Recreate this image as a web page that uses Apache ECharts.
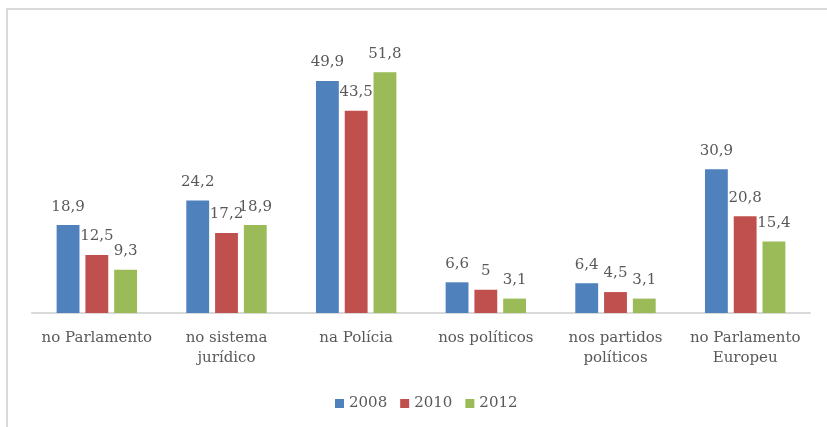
<!DOCTYPE html>
<html>
<head>
<meta charset="utf-8">
<script src="https://cdn.jsdelivr.net/npm/echarts@6/dist/echarts.min.js"></script>
<style>
  html, body { margin: 0; padding: 0; background: #fff; overflow: hidden; width: 827px; height: 427px; }
  #frame { position: absolute; left: 6px; top: 8px; width: 900px; height: 500px;
           border-left: 2px solid #d9d9d9; border-top: 2px solid #d9d9d9; }
  #chart { position: absolute; left: 0; top: 0; width: 827px; height: 427px; }
</style>
</head>
<body>
<div id="frame"></div>
<div id="chart"></div>
<script>
// Confidence in institutions, by survey year
const categories = ['no Parlamento', 'no sistema\njurídico', 'na Polícia', 'nos políticos', 'nos partidos\npolíticos', 'no Parlamento\nEuropeu'];
const years = ['2008', '2010', '2012'];
const values2008 = [18.9, 24.2, 49.9, 6.6, 6.4, 30.9];
const values2010 = [12.5, 17.2, 43.5, 5, 4.5, 20.8];
const values2012 = [9.3, 18.9, 51.8, 3.1, 3.1, 15.4];
const colors = ['#4f81bd', '#c0504d', '#9bbb59'];

const FONT = 'DejaVu Serif';
const TEXT = '#595959';

const fmt = v => String(v).replace('.', ',');

const series = [values2008, values2010, values2012].map((data, i) => ({
  name: years[i],
  type: 'bar',
  data: data,
  barGap: '26%',
  barCategoryGap: '38%',
  itemStyle: { color: colors[i] },
  label: {
    show: true,
    position: 'top',
    distance: 11,
    formatter: p => fmt(p.value),
    color: TEXT,
    fontFamily: FONT,
    fontSize: 15
  }
}));

const chart = echarts.init(document.getElementById('chart'), null, { renderer: 'canvas' });
chart.setOption({
  animation: false,
  grid: { left: 32, right: 17, top: 34, bottom: 114 },
  legend: {
    bottom: 11,
    left: 330,
    itemWidth: 9,
    itemHeight: 9,
    itemGap: 13,
    icon: 'rect',
    textStyle: { color: TEXT, fontFamily: FONT, fontSize: 15 },
    data: years
  },
  xAxis: {
    type: 'category',
    data: categories,
    axisLine: { lineStyle: { color: '#d9d9d9', width: 2 } },
    axisTick: { show: false },
    axisLabel: { color: TEXT, fontFamily: FONT, fontSize: 15, lineHeight: 20, margin: 15, interval: 0 }
  },
  yAxis: {
    type: 'value',
    min: 0,
    max: 60,
    show: false,
    splitLine: { show: false }
  },
  series: series
});
</script>
</body>
</html>
